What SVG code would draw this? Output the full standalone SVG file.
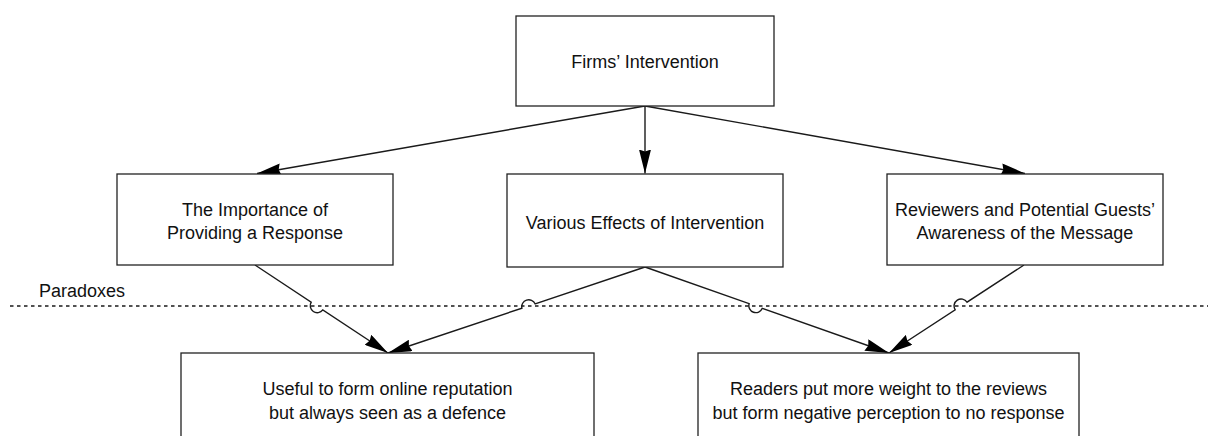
<svg xmlns="http://www.w3.org/2000/svg" width="1208" height="436" viewBox="0 0 1208 436">
<style>
.box{fill:#ffffff;stroke:#222222;stroke-width:1.3}
.t{font-family:"Liberation Sans",Arial,Helvetica,sans-serif;font-size:18px;fill:#111111;text-anchor:middle}
.lbl{font-family:"Liberation Sans",Arial,Helvetica,sans-serif;font-size:18px;fill:#111111}
.edge{fill:none;stroke:#1a1a1a;stroke-width:1.4}
.sep{fill:none;stroke:#1a1a1a;stroke-width:1.4;stroke-dasharray:3.5 3.5}
</style>
<defs>
<marker id="arr" markerUnits="userSpaceOnUse" markerWidth="24" markerHeight="12" viewBox="0 0 24 12" refX="24" refY="6" orient="auto">
<path d="M0,0 L24,6 L0,12 L2,6 z" fill="#000000"/>
</marker>
</defs>
<rect width="1208" height="436" fill="#ffffff"/>
<g id="separator">
<line class="sep" x1="10" y1="306" x2="1208" y2="306"/>
<text class="lbl" x="39" y="297">Paradoxes</text>
</g>
<g id="connectors">
<path class="edge" d="M645,106 L257,173.5" marker-end="url(#arr)"/>
<path class="edge" d="M645,106 L645,173.5" marker-end="url(#arr)"/>
<path class="edge" d="M645,106 L1025,173.5" marker-end="url(#arr)"/>
<path class="edge" d="M255,265 L311.2,302.1 A7,7 0 0 0 322.8,309.9 L388,353" marker-end="url(#arr)"/>
<path class="edge" d="M645,267 L535.1,303.8 A7,7 0 0 0 521.9,308.2 L388,353" marker-end="url(#arr)"/>
<path class="edge" d="M645,267 L749.1,303.7 A7,7 0 0 0 762.3,308.3 L889,353" marker-end="url(#arr)"/>
<path class="edge" d="M1024,265 L967,302.2 A7,7 0 0 0 955.2,309.8 L889,353" marker-end="url(#arr)"/>
</g>
<g id="firms-intervention">
<rect class="box" x="516" y="16" width="258" height="90"/>
<text class="t" x="645" y="68">Firms’ Intervention</text>
</g>
<g id="importance-response">
<rect class="box" x="117" y="174" width="276" height="91"/>
<text class="t" x="255" y="216">The Importance of</text>
<text class="t" x="255" y="239">Providing a Response</text>
</g>
<g id="various-effects">
<rect class="box" x="507" y="174" width="276" height="93"/>
<text class="t" x="645" y="229">Various Effects of Intervention</text>
</g>
<g id="reviewers-awareness">
<rect class="box" x="887" y="174" width="276" height="91"/>
<text class="t" x="1025" y="216">Reviewers and Potential Guests’</text>
<text class="t" x="1025" y="239">Awareness of the Message</text>
</g>
<g id="useful-reputation">
<rect class="box" x="181" y="353" width="413" height="110"/>
<text class="t" x="387.5" y="395">Useful to form online reputation</text>
<text class="t" x="387.5" y="419">but always seen as a defence</text>
</g>
<g id="readers-weight">
<rect class="box" x="698" y="353" width="381" height="110"/>
<text class="t" x="888.5" y="395">Readers put more weight to the reviews</text>
<text class="t" x="888.5" y="419">but form negative perception to no response</text>
</g>
</svg>
